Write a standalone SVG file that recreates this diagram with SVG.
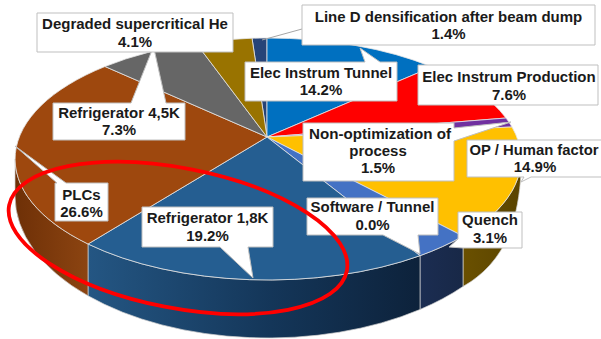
<svg xmlns="http://www.w3.org/2000/svg" width="601" height="339" viewBox="0 0 601 339">
<style>
.top{stroke:#e4e4e4;stroke-width:0.8;stroke-linejoin:round}
.side{stroke:#d0d0d0;stroke-width:0.7;stroke-linejoin:round}
.box{fill:#ffffff;stroke:#bfbfbf;stroke-width:1;stroke-linejoin:miter}
.lbl{font-family:"Liberation Sans",Arial,sans-serif;font-weight:bold;font-size:15px;fill:#1a1a1a;text-anchor:middle}
.lead{stroke:#a6a6a6;stroke-width:1;fill:none}
</style>
<defs>
<linearGradient id="gBrownSide" x1="0" y1="0" x2="1" y2="0">
<stop offset="0" stop-color="#6e3007"/><stop offset="1" stop-color="#8c4411"/>
</linearGradient>
<linearGradient id="gSteelSide" x1="0" y1="0" x2="1" y2="0">
<stop offset="0" stop-color="#245683"/><stop offset="0.55" stop-color="#143659"/><stop offset="1" stop-color="#0d223b"/>
</linearGradient>
<linearGradient id="gQuenchSide" x1="0" y1="0" x2="1" y2="0">
<stop offset="0" stop-color="#1b2d52"/><stop offset="1" stop-color="#182847"/>
</linearGradient>
<linearGradient id="gYellowSide" x1="0" y1="0" x2="1" y2="0">
<stop offset="0" stop-color="#6a5000"/><stop offset="1" stop-color="#5a4400"/>
</linearGradient>
</defs>
<rect width="601" height="339" fill="#ffffff"/>

<g id="slice-lined">
<path class="top" fill="#264478" d="M267,137 L252,38.2 A253,121 0 0 1 267,38 Z"/>
</g>
<g id="slice-elec-tunnel">
<path class="top" fill="#0070C0" d="M267,137 L267,38 A253,121 0 0 1 432,66.9 Z"/>
</g>
<g id="slice-elec-production">
<path class="top" fill="#FF0000" d="M267,137 L432,66.9 A253,121 0 0 1 506,118 Z"/>
</g>
<g id="slice-non-optimization">
<path class="top" fill="#7030A0" d="M267,137 L506,118 A253,121 0 0 1 512,127 Z"/>
</g>
<g id="slice-op-human">
<path class="side" fill="url(#gYellowSide)" d="M463,236.1 L463,286.5 C482,276 500,258 510,232 C516,215 520,195 521,172 L521,159 A253,121 0 0 1 463,236.1 Z"/>
<path class="top" fill="#FFC000" d="M267,137 L512,127 A253,121 0 0 1 463,236.1 Z"/>
</g>
<g id="slice-quench">
<path class="side" fill="url(#gQuenchSide)" d="M420,255.7 A253,121 0 0 0 463,236.1 L463,286.5 A253,142 0 0 1 420,309.5 Z"/>
<path class="top" fill="#4472C4" d="M267,137 L463,236.1 A253,121 0 0 1 420,255.7 Z"/>
</g>
<g id="slice-refrigerator-18k">
<path class="side" fill="url(#gSteelSide)" d="M88,244 A253,121 0 0 0 420,255.7 L420,309.5 A253,142 0 0 1 88,295.8 Z"/>
<path class="top" fill="#255E91" d="M267,137 L420,255.7 A253,121 0 0 1 88,244 Z"/>
</g>
<g id="slice-plcs">
<path class="side" fill="url(#gBrownSide)" d="M15,159 A253,121 0 0 0 88,244 L88,295.8 A253,142 0 0 1 15,196 Z"/>
<path class="top" fill="#9E480E" d="M267,137 L88,244 A253,121 0 0 1 105,66.5 Z"/>
</g>
<g id="slice-refrigerator-45k">
<path class="top" fill="#666666" d="M267,137 L105,66.5 A253,121 0 0 1 196,43 Z"/>
</g>
<g id="slice-degraded-he">
<path class="top" fill="#997300" d="M267,137 L196,43 A253,121 0 0 1 252,38.2 Z"/>
</g>

<g id="connectors">
<line class="lead" x1="262" y1="40" x2="302" y2="29"/>
</g>

<g id="label-refrigerator-45k">
<path class="box" d="M53,103 H131 L153.5,46.5 L166,103 H185 V140 H53 Z"/>
<text class="lbl" x="119" y="118">Refrigerator 4,5K</text>
<text class="lbl" x="119" y="135">7.3%</text>
</g>
<g id="label-degraded-he">
<path class="box" d="M37,13 H233 V52 H37 Z"/>
<text class="lbl" x="135" y="29">Degraded supercritical He</text>
<text class="lbl" x="135" y="47">4.1%</text>
</g>
<g id="label-lined">
<path class="box" d="M302,5 H595 V45 H302 Z"/>
<text class="lbl" x="448.5" y="21.5">Line D densification after beam dump</text>
<text class="lbl" x="448.5" y="38.5">1.4%</text>
</g>
<g id="label-elec-tunnel">
<path class="box" d="M245,62 H365 L360,48 L380,62 H397 V101 H245 Z"/>
<text class="lbl" x="321" y="78">Elec Instrum Tunnel</text>
<text class="lbl" x="321" y="95">14.2%</text>
</g>
<g id="label-elec-production">
<path class="box" d="M418,65 H598 V105 H418 Z"/>
<text class="lbl" x="509" y="82">Elec Instrum Production</text>
<text class="lbl" x="509" y="100">7.6%</text>
</g>
<g id="label-non-optimization">
<path class="box" d="M303,123 H454 V128 L511,122 L454,141 V181 H303 Z"/>
<text class="lbl" x="380" y="139" textLength="142" lengthAdjust="spacingAndGlyphs">Non-optimization of</text>
<text class="lbl" x="378" y="156">process</text>
<text class="lbl" x="378" y="173">1.5%</text>
</g>
<g id="label-op-human">
<path class="box" d="M467,140 H612 V177 H531 L521,182 L524,177 H467 Z"/>
<text class="lbl" x="534" y="155" textLength="129" lengthAdjust="spacingAndGlyphs">OP / Human factor</text>
<text class="lbl" x="535" y="172">14.9%</text>
</g>
<g id="label-quench">
<path class="box" d="M458,212 H522 V248 H463 L449,247 L458,239 Z"/>
<text class="lbl" x="490" y="225">Quench</text>
<text class="lbl" x="490" y="243">3.1%</text>
</g>
<g id="label-software-tunnel">
<path class="box" d="M307,198 H438 V235 H418 L420,254 L383,235 H307 Z"/>
<text class="lbl" x="372.5" y="212">Software / Tunnel</text>
<text class="lbl" x="372.5" y="230">0.0%</text>
</g>
<g id="label-refrigerator-18k">
<path class="box" d="M142,207 H273 V247 H248 L253,278 L220,247 H142 Z"/>
<text class="lbl" x="207.5" y="223">Refrigerator 1,8K</text>
<text class="lbl" x="207.5" y="241">19.2%</text>
</g>
<g id="label-plcs">
<path class="box" d="M55,183 H57 L15,146 L66,183 H108 V221 H55 Z"/>
<text class="lbl" x="81.5" y="200">PLCs</text>
<text class="lbl" x="81.5" y="217">26.6%</text>
</g>

<g id="highlight">
<ellipse cx="178" cy="238" rx="172" ry="70" transform="rotate(11 178 238)" fill="none" stroke="#FF0000" stroke-width="3.8"/>
</g>
</svg>
